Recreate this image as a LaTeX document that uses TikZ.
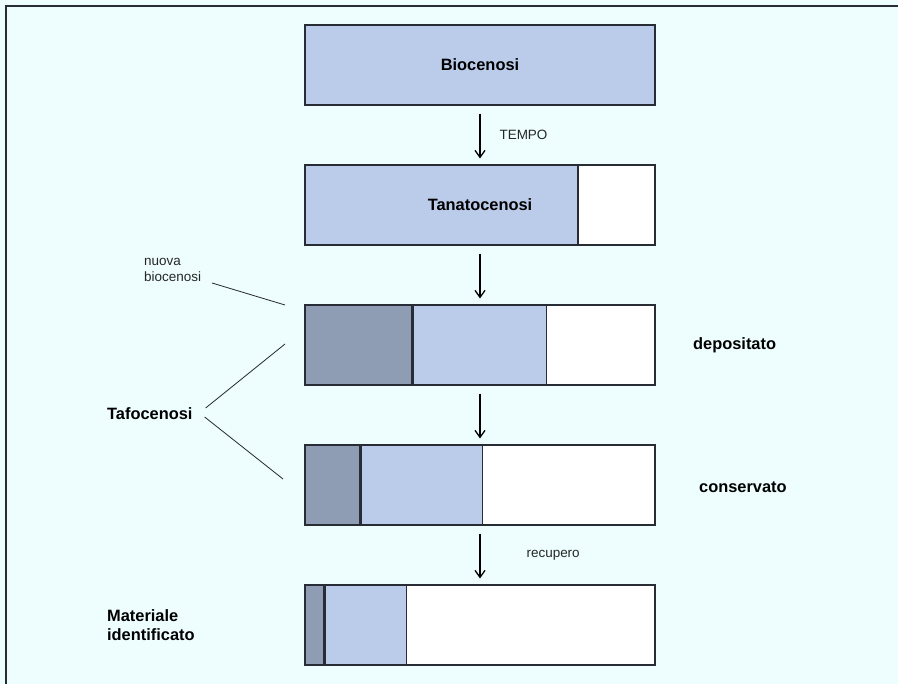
\documentclass[tikz,border=0pt]{standalone}
\usepackage{fontspec}
\setmainfont{Liberation Sans}
\usetikzlibrary{arrows.meta,positioning}

\definecolor{sfondo}{RGB}{238,254,255}
\definecolor{vivo}{RGB}{187,204,234}
\definecolor{nuovo}{RGB}{143,157,180}
\definecolor{bordo}{RGB}{40,44,52}

\begin{document}
\begin{tikzpicture}[x=0.03cm,y=-0.03cm,
    blocco/.style={draw=bordo,line width=0.9pt,minimum height=2.4cm,inner sep=0pt},
    parte/.style={draw=bordo,line width=0.9pt,minimum height=2.4cm,inner sep=0pt,anchor=west},
    titolo/.style={font={\fontsize{14pt}{16pt}\selectfont\bfseries}},
    nota/.style={font={\fontsize{11.5pt}{14pt}\selectfont},text=black!85},
    freccia/.style={line width=1.1pt,-{Straight Barb[length=2.1mm,width=3mm]},shorten <=0.24cm,shorten >=0.18cm},
    linea/.style={line width=0.7pt,bordo}]

\fill[sfondo](0,0)rectangle(898,684);
\useasboundingbox(0,0)rectangle(898,684);
\draw[line width=1pt,bordo](6,684)--(6,6)--(898,6);

% scatole
\node[blocco,fill=vivo,minimum width=10.5cm,titolo] (bio) at (480,65){Biocenosi};

\node[blocco,fill=white,minimum width=10.5cm] (tana) at (480,205){};
\node[parte,fill=vivo,minimum width=8.19cm] (tanaA) at (tana.west){};
\node[titolo] (tanaT) at (tana.center){Tanatocenosi};

\node[blocco,fill=white,minimum width=10.5cm] (depo) at (480,345){};
\node[parte,fill=nuovo,minimum width=3.21cm] (depoA) at (depo.west){};
\node[parte,fill=vivo,minimum width=3.99cm] (depoB) at (depoA.east){};

\node[blocco,fill=white,minimum width=10.5cm] (cons) at (480,485){};
\node[parte,fill=nuovo,minimum width=1.65cm] (consA) at (cons.west){};
\node[parte,fill=vivo,minimum width=3.63cm] (consB) at (consA.east){};

\node[blocco,fill=white,minimum width=10.5cm] (mat) at (480,625){};
\node[parte,fill=nuovo,minimum width=0.57cm] (matA) at (mat.west){};
\node[parte,fill=vivo,minimum width=2.43cm] (matB) at (matA.east){};

% frecce
\draw[freccia](bio.south)--(tana.north) node[midway,right=0.45cm,nota](tempo){TEMPO};
\draw[freccia](tana.south)--(depo.north);
\draw[freccia](depo.south)--(cons.north);
\draw[freccia](cons.south)--(mat.north) node[midway,right=1.26cm,nota](rec){recupero};

% etichette
\node[titolo,anchor=west] (dep) at (689,345){depositato};
\node[titolo,anchor=west] (con) at (695,487){conservato};
\node[titolo,anchor=west] (taf) at (103,414){Tafocenosi};
\node[nota,anchor=west,align=left] (nbio) at (140,270){nuova\\biocenosi};
\node[titolo,anchor=west,align=left] (mid) at (103,625){Materiale\\identificato};

\coordinate (pNuova) at (285,305);
\coordinate (pDepo) at (285,344);
\coordinate (pCons) at (283,479);
\draw[linea](212,283)--(pNuova);
\draw[linea](taf.east)++(9,-6)--(pDepo);
\draw[linea](taf.east)++(8,3)--(pCons);

\end{tikzpicture}
\end{document}
